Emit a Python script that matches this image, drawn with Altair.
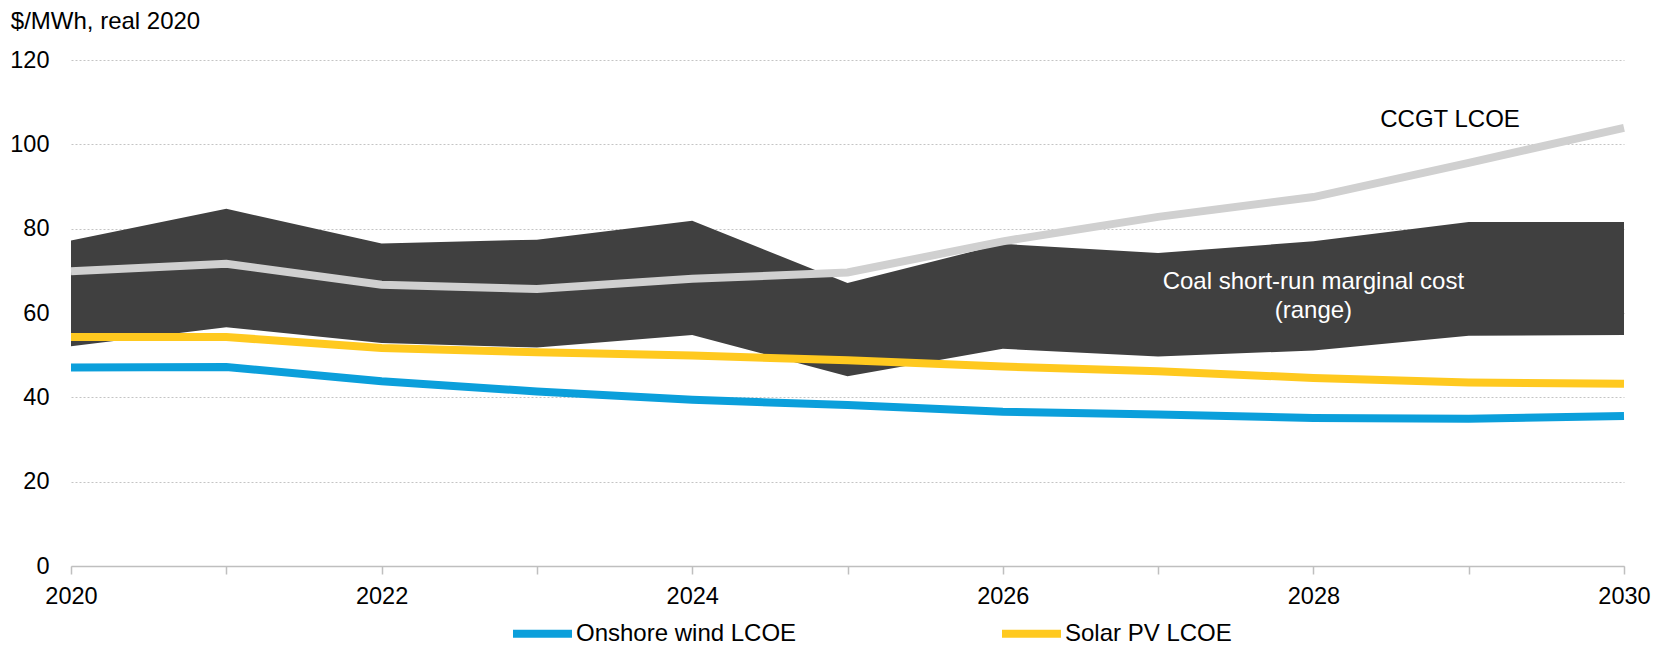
import altair as alt
import pandas as pd

years = list(range(2020, 2031))
coal_low = [52.1, 56.6, 52.9, 51.8, 54.8, 45.0, 51.5, 49.7, 51.1, 54.6, 54.8]
coal_high = [77.2, 84.7, 76.5, 77.4, 81.9, 67.1, 76.4, 74.2, 77.0, 81.6, 81.6]
ccgt = [69.9, 71.7, 66.7, 65.7, 68.1, 69.6, 77.0, 82.8, 87.5, 95.6, 103.9]
solar = [54.3, 54.3, 51.7, 50.7, 49.9, 48.8, 47.3, 46.2, 44.6, 43.5, 43.2]
wind = [47.1, 47.2, 43.8, 41.4, 39.4, 38.2, 36.6, 35.9, 35.1, 34.9, 35.6]

series_names = ["Onshore wind LCOE", "Solar PV LCOE"]
series_colors = ["#0b9fdb", "#ffc91f"]

ann_text = ["CCGT LCOE", "Coal short-run marginal cost", "(range)"]
ann_x = [2028.88, 2028.0, 2028.0]
ann_y = [105.7, 67.25, 60.55]
ann_color = ["#000000", "#ffffff", "#ffffff"]

FONT = "Liberation Sans, Arial, sans-serif"

band_df = pd.DataFrame({"year": years, "low": coal_low, "high": coal_high})
ccgt_df = pd.DataFrame({"year": years, "value": ccgt})
lines_df = pd.concat([
    pd.DataFrame({"year": years, "value": wind, "series": series_names[0]}),
    pd.DataFrame({"year": years, "value": solar, "series": series_names[1]}),
])
ann_df = pd.DataFrame({"x": ann_x, "y": ann_y, "label": ann_text, "color": ann_color})

x_scale = alt.Scale(domain=[2020, 2030], nice=False, zero=False)
y_scale = alt.Scale(domain=[0, 120], nice=False)

x_axis = alt.Axis(
    values=years, labelExpr="datum.value % 2 == 0 ? datum.label : ''", format="d",
    title=None, grid=False, domainColor="#bfbfbf", domainWidth=1.5,
    tickColor="#bfbfbf", tickWidth=1.5, tickSize=8, labelPadding=10,
    labelFontSize=23.5, labelColor="#000000", labelFont=FONT, labelFlush=False,
)
y_axis = alt.Axis(
    values=[0, 20, 40, 60, 80, 100, 120], title="$/MWh, real 2020",
    titleAngle=0, titleAlign="left", titleBaseline="alphabetic",
    titleX=-60.7, titleY=-32, titleFontSize=24, titleFontWeight="normal",
    titleColor="#000000", titleFont=FONT,
    domain=False, ticks=False, tickSize=0, labelPadding=22,
    labelFontSize=23.5, labelColor="#000000", labelFont=FONT,
    grid=True, gridColor="#c4c4c4", gridDash=[2, 2], gridWidth=1,
)

X = alt.X("year:Q", scale=x_scale, axis=x_axis)

band = alt.Chart(band_df).mark_area(color="#404040", opacity=1).encode(
    x=X,
    y=alt.Y("low:Q", scale=y_scale, axis=y_axis),
    y2="high:Q",
)

ccgt_line = alt.Chart(ccgt_df).mark_line(color="#d0d0d0", strokeWidth=8, strokeCap="butt").encode(
    x=X,
    y=alt.Y("value:Q", scale=y_scale, axis=y_axis),
)

lines = alt.Chart(lines_df).mark_line(strokeWidth=8, strokeCap="butt").encode(
    x=X,
    y=alt.Y("value:Q", scale=y_scale, axis=y_axis),
    color=alt.Color(
        "series:N",
        scale=alt.Scale(domain=series_names, range=series_colors),
        legend=alt.Legend(
            orient="none", legendX=438, legendY=540, direction="horizontal",
            columns=2, columnPadding=189, title=None, symbolType="stroke",
            symbolStrokeWidth=8, symbolSize=3481, labelFontSize=24,
            labelOffset=0, labelLimit=0, labelFont=FONT, labelColor="#000000",
        ),
    ),
)

labels = alt.Chart(ann_df).mark_text(fontSize=24, font=FONT, baseline="middle", align="center").encode(
    x=alt.X("x:Q", scale=x_scale, axis=x_axis),
    y=alt.Y("y:Q", scale=y_scale, axis=y_axis),
    text="label:N",
    color=alt.Color("color:N", scale=None),
)

chart = alt.layer(band, ccgt_line, lines, labels).properties(
    width=1553, height=506,
    autosize=alt.AutoSizeParams(type="none"),
    padding={"left": 63, "top": 52, "right": 27, "bottom": 81},
).configure(font=FONT).configure_view(strokeWidth=0, stroke="transparent")

chart.save("out.html", embed_options={"renderer": "svg", "actions": False})
